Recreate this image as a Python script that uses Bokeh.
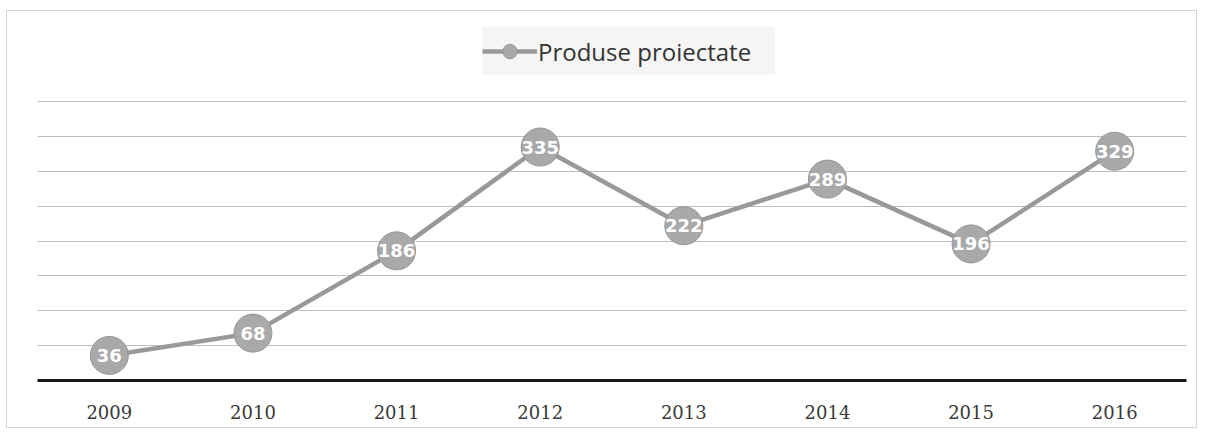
from bokeh.plotting import figure
from bokeh.models import ColumnDataSource, Range1d, FixedTicker, Legend, LegendItem, LabelSet
from bokeh.core.properties import value
from bokeh.embed import file_html
from bokeh.resources import INLINE

years = ["2009", "2010", "2011", "2012", "2013", "2014", "2015", "2016"]
values = [36, 68, 186, 335, 222, 289, 196, 329]
labels = [str(v) for v in values]
series_name = "Produse proiectate"
grid_ticks = [50, 100, 150, 200, 250, 300, 350, 400]

src = ColumnDataSource(dict(x=years, y=values, lab=labels))

p = figure(width=1191, height=418, x_range=years, y_range=Range1d(0, 518),
           output_backend="svg", toolbar_location=None,
           min_border_left=30, min_border_right=12, min_border_top=8, min_border_bottom=49)
p.x_range.range_padding = 0
p.outline_line_color = None
p.background_fill_color = "white"
p.border_fill_color = "white"
p.styles = {"border": "1px solid #d4d4d4", "margin-left": "6px", "margin-top": "10px"}

p.yaxis.visible = False
p.ygrid.ticker = FixedTicker(ticks=grid_ticks)
p.ygrid.grid_line_color = "#bdbdbd"
p.ygrid.grid_line_width = 1
p.xgrid.grid_line_color = None

p.xaxis.axis_line_color = "#1a1a1a"
p.xaxis.axis_line_width = 3
p.xaxis.major_tick_line_color = None
p.xaxis.minor_tick_line_color = None
p.xaxis.major_label_standoff = 18
p.xaxis.major_label_text_font = "DejaVu Serif"
p.xaxis.major_label_text_font_size = "18px"
p.xaxis.major_label_text_color = "#3a3a3a"

ln = p.line("x", "y", source=src, line_color="#999999", line_width=4.5)
sc = p.scatter("x", "y", source=src, size=38, fill_color="#a9a9a9", line_color="#959595", line_width=1)

lbl = LabelSet(x="x", y="y", text="lab", source=src, text_align="center", text_baseline="middle",
               text_color="white", text_font=value("DejaVu Sans"), text_font_style="bold",
               text_font_size="18px")
p.add_layout(lbl)

legend = Legend(items=[LegendItem(label=series_name, renderers=[ln, sc])], location=(445, 305),
                orientation="horizontal", background_fill_color="#f5f5f5", background_fill_alpha=1,
                border_line_color=None, label_text_font="Open Sans", label_text_font_size="24px",
                label_text_color="#333333", glyph_width=55, glyph_height=36, label_height=48,
                padding=0, margin=0, label_standoff=1, label_width=237)
p.add_layout(legend)

open("out.html", "w").write(file_html(p, INLINE))
